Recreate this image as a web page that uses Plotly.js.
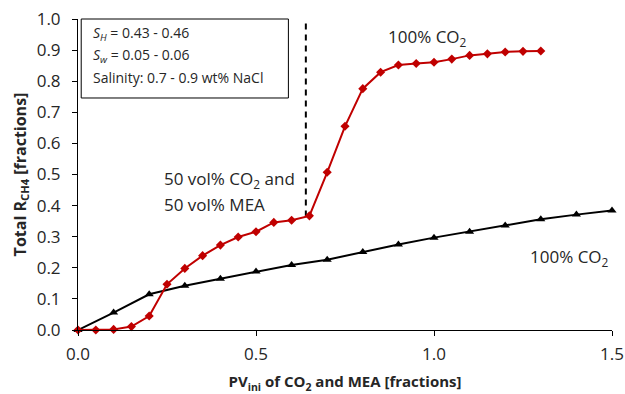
<!DOCTYPE html>
<html>
<head>
<meta charset="utf-8">
<script src="https://cdn.plot.ly/plotly-3.0.1.min.js"></script>
<style>html,body{margin:0;padding:0;background:#fff;}#chart{width:625px;height:394px;}</style>
</head>
<body>
<div id="chart"></div>
<script>
// Data
const redX = [0, 0.05, 0.1, 0.15, 0.2, 0.25, 0.3, 0.35, 0.4, 0.45, 0.5, 0.55, 0.6, 0.65, 0.7, 0.75, 0.8, 0.85, 0.9, 0.95, 1.0, 1.05, 1.1, 1.15, 1.2, 1.25, 1.3];
const redY = [0, 0.0, 0.002, 0.011, 0.045, 0.147, 0.198, 0.239, 0.273, 0.299, 0.316, 0.346, 0.353, 0.367, 0.507, 0.655, 0.776, 0.829, 0.852, 0.857, 0.861, 0.871, 0.883, 0.888, 0.894, 0.896, 0.897];
const blackX = [0, 0.1, 0.2, 0.3, 0.4, 0.5, 0.6, 0.7, 0.8, 0.9, 1.0, 1.1, 1.2, 1.3, 1.4, 1.5];
const blackY = [0, 0.056, 0.115, 0.142, 0.165, 0.188, 0.209, 0.226, 0.251, 0.275, 0.297, 0.316, 0.336, 0.356, 0.371, 0.384];
const switchX = [0.64, 0.64];
const switchY = [0.365, 0.99];
const xTicks = [0, 0.5, 1.0, 1.5];
const xTickText = ['0.0', '0.5', '1.0', '1.5'];
const yTicks = [0, 0.1, 0.2, 0.3, 0.4, 0.5, 0.6, 0.7, 0.8, 0.9, 1.0];
const yTickText = ['0.0', '0.1', '0.2', '0.3', '0.4', '0.5', '0.6', '0.7', '0.8', '0.9', '1.0'];
const boxLines = ['<i>S<sub>H</sub></i> = 0.43 - 0.46', '<i>S<sub>w</sub></i> = 0.05 - 0.06', 'Salinity: 0.7 - 0.9 wt% NaCl'];
const boxLineY = [0.952, 0.884, 0.813];

const FONT = 'Open Sans, Noto Sans, sans-serif';
const TXT = '#262626';

const traces = [
  {x: switchX, y: switchY, mode: 'lines', line: {color: '#000', width: 2, dash: '6px,5px'}, hoverinfo: 'skip', cliponaxis: false},
  {x: blackX, y: blackY, mode: 'lines+markers', line: {color: '#000', width: 2}, marker: {symbol: 'triangle-up', size: 8, color: '#000'}, cliponaxis: false},
  {x: redX, y: redY, mode: 'lines+markers', line: {color: '#C00000', width: 2}, marker: {symbol: 'diamond', size: 7, color: '#C00000'}, cliponaxis: false}
];

const annotations = boxLines.map((t, i) => ({
  x: 0.036, y: boxLineY[i], xanchor: 'left', yanchor: 'middle', align: 'left', showarrow: false,
  text: t, font: {family: FONT, size: 14, color: TXT}
}));
annotations.push(
  {x: 0.982, y: 0.942, xanchor: 'center', yanchor: 'middle', showarrow: false, text: '100% CO<sub>2</sub>', font: {family: FONT, size: 17, color: TXT}},
  {x: 0.236, y: 0.484, xanchor: 'left', yanchor: 'middle', showarrow: false, text: '50 vol% CO<sub>2</sub> and', font: {family: FONT, size: 17, color: TXT}},
  {x: 0.236, y: 0.403, xanchor: 'left', yanchor: 'middle', showarrow: false, text: '50 vol% MEA', font: {family: FONT, size: 17, color: TXT}},
  {x: 1.497, y: 0.232, xanchor: 'right', yanchor: 'middle', showarrow: false, text: '100% CO<sub>2</sub>', font: {family: FONT, size: 17, color: TXT}}
);

const layout = {
  width: 625, height: 394,
  margin: {l: 78, r: 13, t: 19, b: 64},
  paper_bgcolor: '#fff', plot_bgcolor: '#fff',
  showlegend: false,
  font: {family: FONT, color: TXT, size: 14},
  xaxis: {
    range: [0, 1.5], tickvals: xTicks, ticktext: xTickText,
    showgrid: false, zeroline: false, showline: true, linecolor: '#000', linewidth: 1,
    ticks: 'outside', ticklen: 5, tickcolor: '#000', ticklabelstandoff: 4,
    tickfont: {family: FONT, size: 17, color: TXT},
    title: {text: '<b>PV<sub>ini</sub> of CO<sub>2</sub> and MEA [fractions]</b>', font: {family: FONT, size: 15, color: TXT}, standoff: 12}
  },
  yaxis: {
    range: [0, 1.0], tickvals: yTicks, ticktext: yTickText,
    showgrid: false, zeroline: false, showline: true, linecolor: '#000', linewidth: 1,
    ticks: 'outside', ticklen: 5, tickcolor: '#000', ticklabelstandoff: 8,
    tickfont: {family: FONT, size: 17, color: TXT},
    title: {text: '<b>Total R<sub>CH4</sub> [fractions]</b>', font: {family: FONT, size: 16, color: TXT}, standoff: 6}
  },
  shapes: [
    {type: 'rect', xref: 'paper', yref: 'paper', x0: 0.006, x1: 0.394, y0: 0.746, y1: 1.0, line: {color: '#000', width: 1}, fillcolor: 'rgba(0,0,0,0)'}
  ],
  annotations: annotations
};

Plotly.newPlot('chart', traces, layout, {displayModeBar: false, staticPlot: true});
</script>
</body>
</html>
